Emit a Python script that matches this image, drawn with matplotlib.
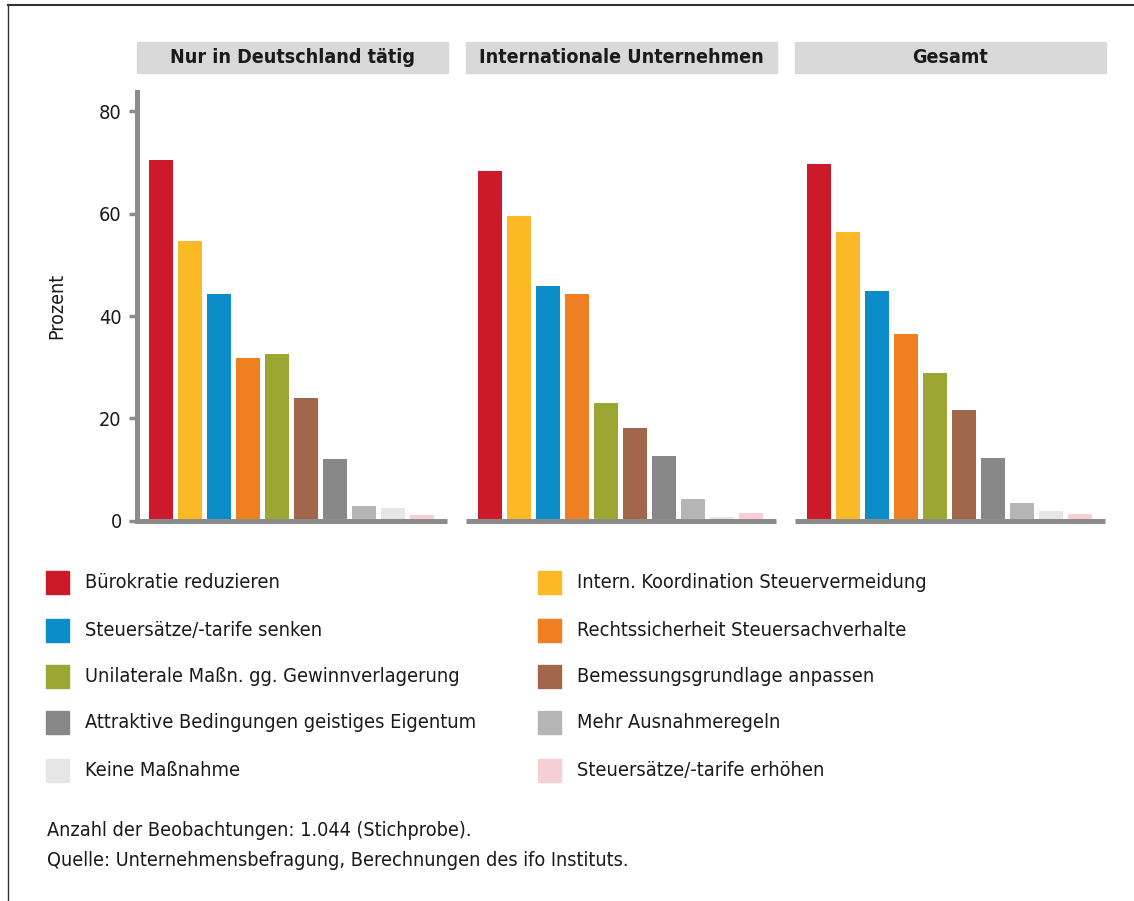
import matplotlib
matplotlib.use('Agg')
import matplotlib.pyplot as plt
from matplotlib.patches import Rectangle
from matplotlib.lines import Line2D

plt.rcParams['font.family'] = ['DejaVu Sans']
plt.rcParams['font.stretch'] = 'condensed'

# Data
panels = ['Nur in Deutschland tätig', 'Internationale Unternehmen', 'Gesamt']
categories = ['Bürokratie reduzieren',
              'Intern. Koordination Steuervermeidung',
              'Steuersätze/-tarife senken',
              'Rechtssicherheit Steuersachverhalte',
              'Unilaterale Maßn. gg. Gewinnverlagerung',
              'Bemessungsgrundlage anpassen',
              'Attraktive Bedingungen geistiges Eigentum',
              'Mehr Ausnahmeregeln',
              'Keine Maßnahme',
              'Steuersätze/-tarife erhöhen']
values_de = [70.5, 54.6, 44.3, 31.8, 32.6, 24.0, 12.1, 2.9, 2.5, 1.1]
values_int = [68.3, 59.5, 45.8, 44.3, 23.0, 18.1, 12.7, 4.3, 0.7, 1.5]
values_all = [69.7, 56.4, 44.9, 36.5, 28.9, 21.6, 12.3, 3.5, 1.9, 1.3]
colors = ['#CC1A2B', '#FBBA25', '#0A8DC8', '#F07F22', '#9BA732',
          '#A0674A', '#878787', '#B5B5B5', '#E6E6E6', '#F5CFD3']

W, H = 1134, 901
fig = plt.figure(figsize=(W / 100, H / 100), dpi=100)

def fx(px):
    return px / W

def fy(py):
    return 1 - py / H

axis_gray = '#8C8C8C'
text_col = '#1a1a1a'
panel_left = [137, 466, 795]
panel_width = 310
y_top, y_base = 92, 520.8
ymax = (y_base - y_top) / 5.12

for k, (name, vals) in enumerate(zip(panels, [values_de, values_int, values_all])):
    left = panel_left[k]
    ax = fig.add_axes([fx(left), fy(y_base), panel_width / W, (y_base - y_top) / H])
    x = list(range(len(vals)))
    ax.bar(x, vals, width=24 / 29, color=colors)
    ax.set_xlim(-24 / 29, -24 / 29 + panel_width / 29)
    ax.set_ylim(0, ymax)
    for s in ['top', 'right']:
        ax.spines[s].set_visible(False)
    ax.spines['bottom'].set_color(axis_gray)
    ax.spines['bottom'].set_linewidth(3.6)
    ax.spines['bottom'].set_capstyle('butt')
    ax.set_xticks([])
    if k == 0:
        ax.spines['left'].set_color(axis_gray)
        ax.spines['left'].set_linewidth(3.6)
        ax.set_yticks([0, 20, 40, 60, 80])
        ax.tick_params(axis='y', length=6, width=2.5, color=axis_gray,
                       labelsize=14.3, pad=5, labelcolor=text_col)
    else:
        ax.spines['left'].set_visible(False)
        ax.set_yticks([])

    # header box
    fig.patches.append(Rectangle((fx(left), fy(72.5)), 311 / W, 30 / H,
                                 transform=fig.transFigure, color='#D9D9D9',
                                 zorder=0))
    fig.text(fx(left + 155), fy(57.5), name, ha='center', va='center',
             fontsize=14.1, fontweight='bold', color=text_col)

fig.text(fx(57), fy(306), 'Prozent', rotation=90, ha='center', va='center',
         fontsize=14, color=text_col)

# Legend
row_y = [582, 630, 676, 722, 770]
col_x = [46, 538]
for i, (lab, c) in enumerate(zip(categories, colors)):
    r, col = i // 2, i % 2
    sq_x = col_x[col]
    fig.patches.append(Rectangle((fx(sq_x), fy(row_y[r] + 11.5)), 23 / W, 23 / H,
                                 transform=fig.transFigure, color=c))
    fig.text(fx(sq_x + 39), fy(row_y[r]), lab, ha='left', va='center',
             fontsize=14.3, color=text_col)

# Footnotes
fig.text(fx(47), fy(831), 'Anzahl der Beobachtungen: 1.044 (Stichprobe).',
         ha='left', va='center', fontsize=14.2, color=text_col)
fig.text(fx(47), fy(861), 'Quelle: Unternehmensbefragung, Berechnungen des ifo Instituts.',
         ha='left', va='center', fontsize=14.2, color=text_col)

# Frame
fig.lines.append(Line2D([fx(8), 1], [fy(5), fy(5)], transform=fig.transFigure,
                        color='#333333', linewidth=1.5))
fig.lines.append(Line2D([fx(8), fx(8)], [fy(5), 0], transform=fig.transFigure,
                        color='#333333', linewidth=1.0))

fig.savefig('out.png', dpi=100)
